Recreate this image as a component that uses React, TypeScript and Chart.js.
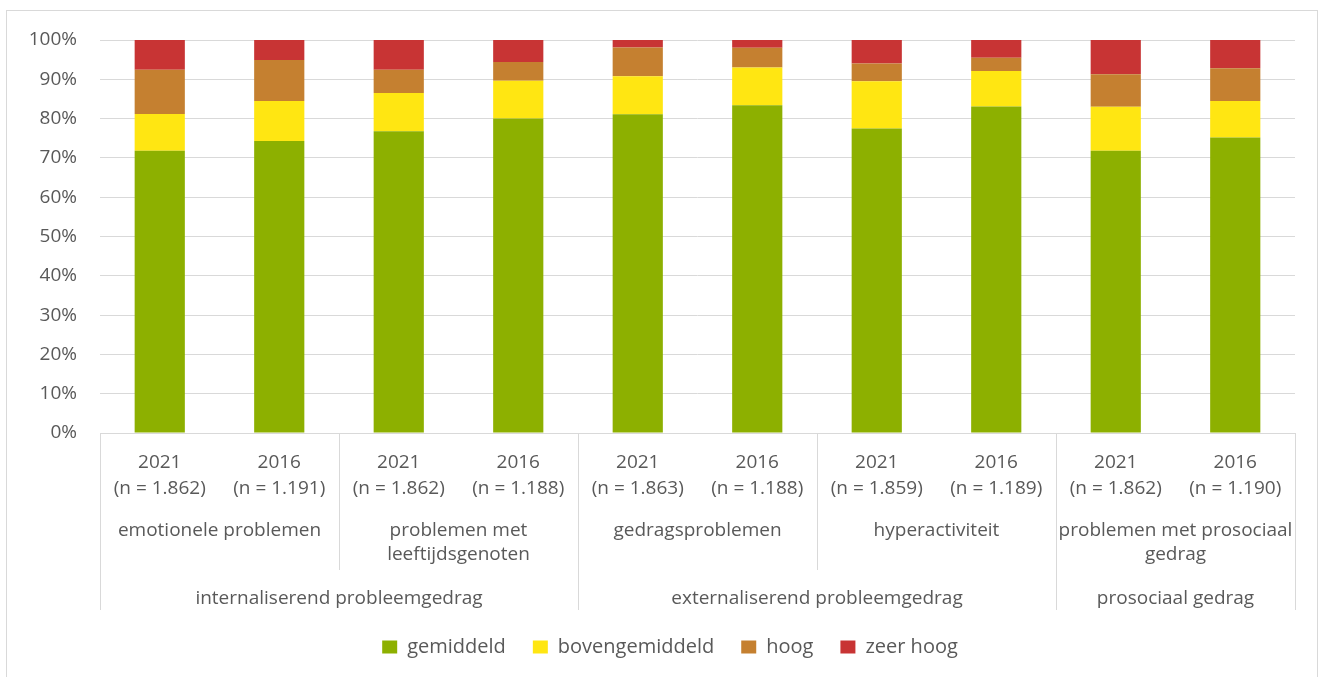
import React, { useEffect, useRef } from "react";
import { Chart, registerables } from "chart.js";

Chart.register(...registerables);

const years = ["2021", "2016", "2021", "2016", "2021", "2016", "2021", "2016", "2021", "2016"];
const sampleSizes = [
  "(n = 1.862)", "(n = 1.191)", "(n = 1.862)", "(n = 1.188)", "(n = 1.863)",
  "(n = 1.188)", "(n = 1.859)", "(n = 1.189)", "(n = 1.862)", "(n = 1.190)",
];
const subgroupLabels = [
  ["emotionele problemen"],
  ["problemen met", "leeftijdsgenoten"],
  ["gedragsproblemen"],
  ["hyperactiviteit"],
  ["problemen met prosociaal", "gedrag"],
];
const subgroupSpans = [2, 2, 2, 2, 2];
const groupLabels = ["internaliserend probleemgedrag", "externaliserend probleemgedrag", "prosociaal gedrag"];
const groupSpans = [4, 4, 2];

const seriesNames = ["gemiddeld", "bovengemiddeld", "hoog", "zeer hoog"];
const gemiddeld = [71.8, 74.3, 76.8, 80.0, 81.1, 83.4, 77.5, 83.1, 71.8, 75.2];
const bovengemiddeld = [9.4, 10.2, 9.7, 9.6, 9.7, 9.6, 12.0, 9.0, 11.2, 9.3];
const hoog = [11.2, 10.4, 5.9, 4.8, 7.3, 5.0, 4.5, 3.4, 8.3, 8.3];
const zeerHoog = [7.6, 5.1, 7.6, 5.6, 1.9, 2.0, 6.0, 4.5, 8.7, 7.2];
const seriesColors = ["#8DB000", "#FFE612", "#C58030", "#C83434"];

const TEXT = "#595959";
const LINE = "#d9d9d9";
const FONT = "'Open Sans', sans-serif";

const multiLevelAxis = {
  id: "multiLevelAxis",
  afterLayout(chart: any) {
    const lg = chart.legend;
    if (lg) {
      lg.left += 19;
      lg.right += 19;
    }
  },
  afterDraw(chart: any) {
    const { ctx, chartArea } = chart;
    const x = chart.scales.x;
    const n = years.length;
    const edge = (i: number) =>
      i <= 0 ? chartArea.left : i >= n ? chartArea.right : (x.getPixelForValue(i - 1) + x.getPixelForValue(i)) / 2;
    const top = chartArea.bottom;
    const groupEdges = new Set<number>();
    let acc = 0;
    groupEdges.add(0);
    groupSpans.forEach((s) => { acc += s; groupEdges.add(acc); });
    const subEdges = new Set<number>();
    acc = 0;
    subEdges.add(0);
    subgroupSpans.forEach((s) => { acc += s; subEdges.add(acc); });

    ctx.save();
    ctx.strokeStyle = LINE;
    ctx.lineWidth = 1;
    subEdges.forEach((i) => {
      const px = Math.round(edge(i)) + 0.5;
      const len = groupEdges.has(i) ? 177 : 137;
      ctx.beginPath();
      ctx.moveTo(px, top);
      ctx.lineTo(px, top + len);
      ctx.stroke();
    });

    ctx.fillStyle = TEXT;
    ctx.font = `19px ${FONT}`;
    ctx.textAlign = "center";
    ctx.textBaseline = "middle";
    let start = 0;
    subgroupLabels.forEach((lines, k) => {
      const end = start + subgroupSpans[k];
      const cx = (edge(start) + edge(end)) / 2;
      lines.forEach((t, j) => ctx.fillText(t, cx, top + 98 + j * 24));
      start = end;
    });
    start = 0;
    groupLabels.forEach((t, k) => {
      const end = start + groupSpans[k];
      const cx = (edge(start) + edge(end)) / 2;
      ctx.fillText(t, cx, top + 166);
      start = end;
    });
    ctx.restore();
  },
};

export default function App() {
  const ref = useRef<HTMLCanvasElement | null>(null);
  useEffect(() => {
    if (!ref.current) return;
    const seriesData = [gemiddeld, bovengemiddeld, hoog, zeerHoog];
    const chart = new Chart(ref.current, {
      type: "bar",
      data: {
        labels: years.map((y, i) => [y, sampleSizes[i]]),
        datasets: seriesNames.map((name, i) => ({
          label: name,
          data: seriesData[i],
          backgroundColor: seriesColors[i],
          borderWidth: 0,
          categoryPercentage: 1,
          barPercentage: 0.42,
        })),
      },
      options: {
        responsive: false,
        animation: false,
        layout: { padding: { left: 0, right: 22, top: 29, bottom: 10 } },
        plugins: {
          tooltip: { enabled: false },
          legend: {
            position: "bottom",
            labels: {
              boxWidth: 15,
              boxHeight: 13,
              padding: 27,
              color: TEXT,
              font: { size: 20, family: FONT },
            },
          },
        },
        scales: {
          x: {
            stacked: true,
            grid: { display: false, drawTicks: false },
            border: { display: true, color: LINE },
            ticks: {
              color: TEXT,
              padding: 17,
              maxRotation: 0,
              autoSkip: false,
              font: { size: 19, family: FONT, lineHeight: 1.37 },
            },
            afterFit: (s: any) => { s.height = 177; },
          },
          y: {
            stacked: true,
            min: 0,
            max: 100,
            grid: { color: LINE, drawTicks: true, tickLength: 23, tickColor: "rgba(0,0,0,0)" },
            border: { display: false },
            ticks: {
              stepSize: 10,
              color: TEXT,
              padding: 0,
              font: { size: 19, family: FONT },
              callback: (v: any) => `${v}%`,
            },
            afterFit: (s: any) => { s.width = 93; },
          },
        },
      },
      plugins: [multiLevelAxis],
    });
    return () => chart.destroy();
  }, []);

  return (
    <div
      style={{
        position: "fixed",
        left: 6,
        top: 10,
        width: 1310,
        height: 668,
        border: `1px solid ${LINE}`,
        background: "#fff",
      }}
    >
      <canvas ref={ref} width={1310} height={666} style={{ display: "block" }} />
    </div>
  );
}
